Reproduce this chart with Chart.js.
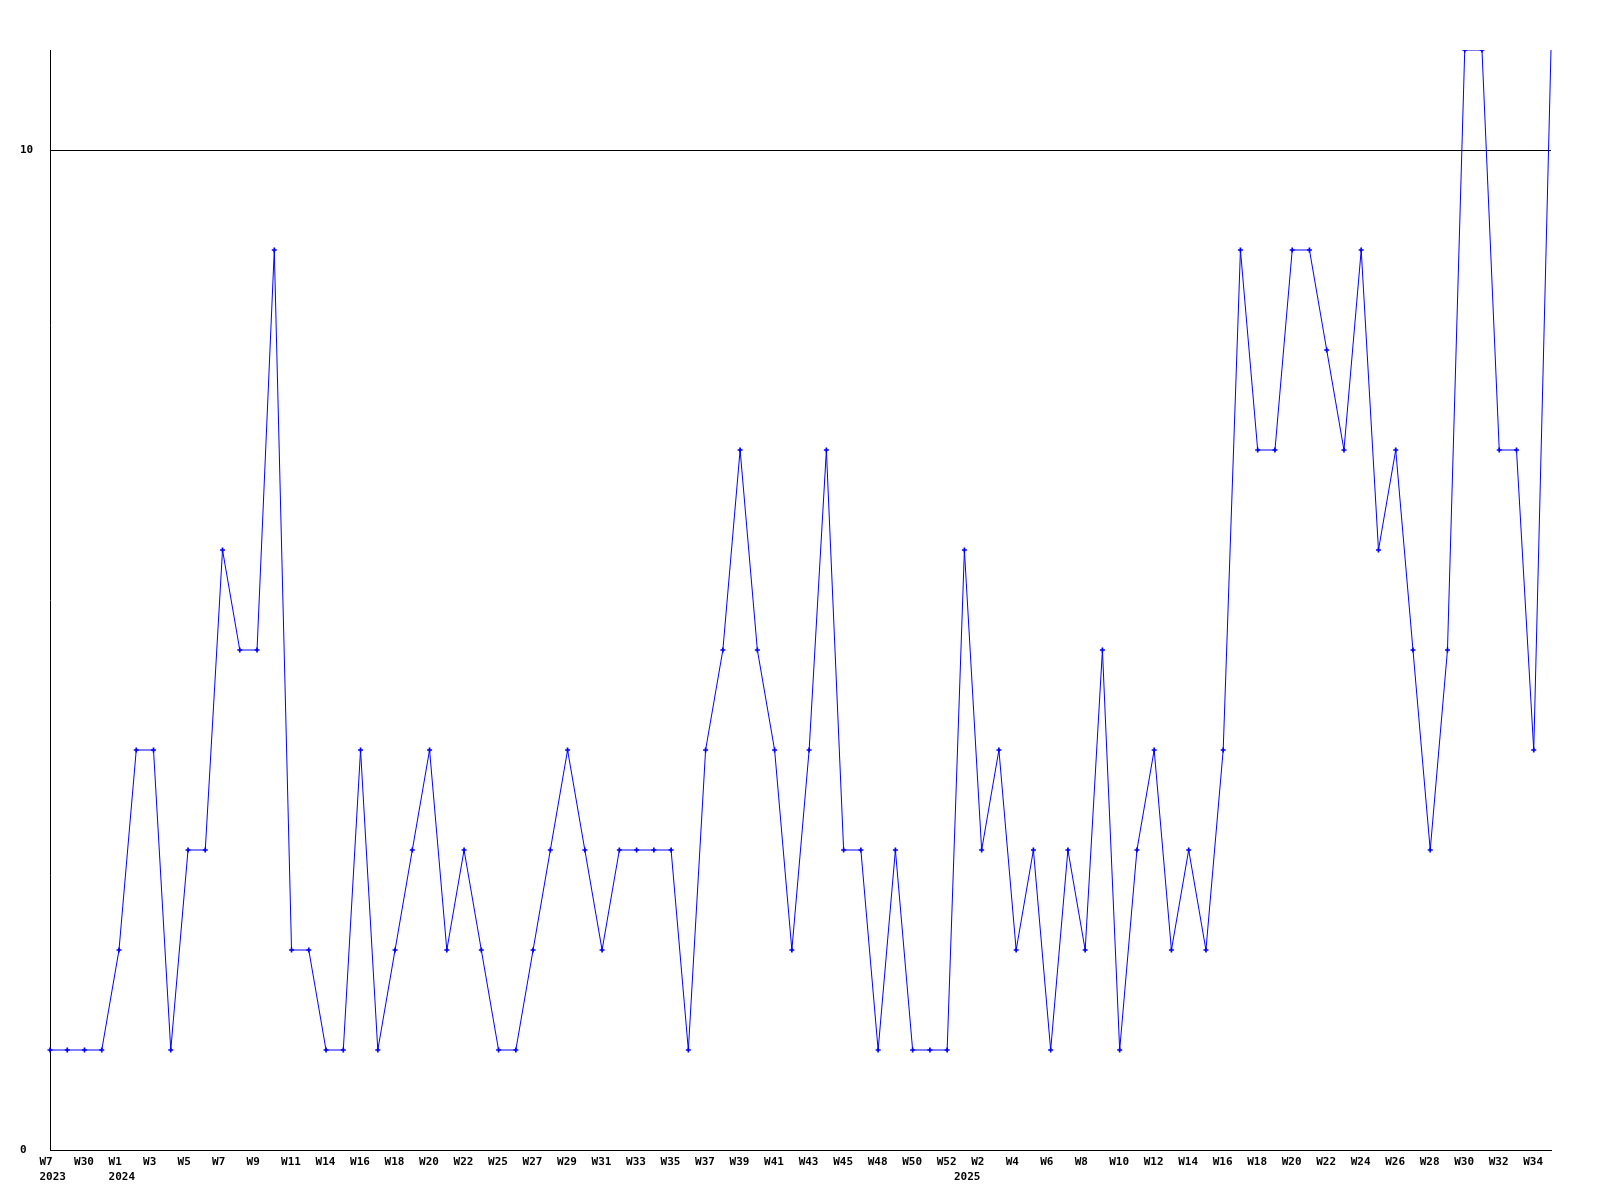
<!DOCTYPE html>
<html>
<head>
<meta charset="utf-8">
<script src="https://cdn.jsdelivr.net/npm/chart.js@4/dist/chart.umd.min.js"></script>
<style>
body { margin: 0; background: #fff; }
</style>
</head>
<body>
<canvas id="myChart" width="1600" height="1200"></canvas>
<script>
// week numbers, one per point
const weeks = [
	7, 18, 30, 44,
	1, 2, 3, 4, 5, 6, 7, 8, 9, 10, 11, 13, 14, 15, 16, 17, 18, 19, 20, 21, 22,
	24, 25, 26, 27, 28, 29, 30, 31, 32, 33, 34, 35, 36, 37, 38, 39, 40, 41, 42, 43, 44, 45,
	47, 48, 49, 50, 51, 52,
	1, 2, 3, 4, 5, 6, 7, 8, 9, 10, 11, 12, 13, 14, 15, 16, 17, 18, 19, 20,
	21, 22, 23, 24, 25, 26, 27, 28, 29, 30, 31, 32, 33, 34, 35
];
const yearOfPoint = [].concat(
	Array(4).fill(2023),
	Array(49).fill(2024),
	Array(35).fill(2025)
);
const counts = [
	1, 1, 1, 1, 2, 4, 4, 1, 3, 3,
	6, 5, 5, 9, 2, 2, 1, 1, 4, 1,
	2, 3, 4, 2, 3, 2, 1, 1, 2, 3,
	4, 3, 2, 3, 3, 3, 3, 1, 4, 5,
	7, 5, 4, 2, 4, 7, 3, 3, 1, 3,
	1, 1, 1, 6, 3, 4, 2, 3, 1, 3,
	2, 5, 1, 3, 4, 2, 3, 2, 4, 9,
	7, 7, 9, 9, 8, 7, 9, 6, 7, 5,
	3, 5, 11, 11, 7, 7, 4, 11
];
const yTicks = [0, 10];

const labels = weeks.map(w => 'W' + w);

// year goes under the first point of each year
const yearLabel = yearOfPoint.map((y, i) => (i === 0 || yearOfPoint[i - 1] !== y) ? String(y) : '');

const font = { family: 'DejaVu Sans Mono', size: 11, weight: 'bold', lineHeight: 1.35 };

const ctx = document.getElementById('myChart').getContext('2d');
const myChart = new Chart(ctx, {
	type: 'line',
	data: {
		labels: labels,
		datasets: [{
			data: counts,
			borderColor: '#0000ff',
			backgroundColor: '#0000ff',
			borderWidth: 1,
			tension: 0,
			fill: false,
			pointStyle: 'cross',
			// the last marker sits on the plot corner and is cut off in the original
			pointRadius: c => c.dataIndex === counts.length - 1 ? 0 : 2.5,
			pointBorderWidth: 1.7,
			pointHoverRadius: 2.5
		}]
	},
	options: {
		responsive: false,
		animation: false,
		layout: { padding: { left: 20, top: 50, right: 49, bottom: 0 } },
		plugins: {
			legend: { display: false },
			tooltip: { enabled: false }
		},
		scales: {
			x: {
				grid: { display: false, drawTicks: false },
				border: { display: true, color: '#000', width: 1 },
				ticks: {
					autoSkip: false,
					maxRotation: 0,
					minRotation: 0,
					align: 'start',
					labelOffset: -10.5,
					padding: 5,
					color: '#000',
					font: font,
					callback: function (value, index) {
						const w = index % 2 === 0 ? this.getLabelForValue(value) : '';
						return yearLabel[index] ? [w, yearLabel[index]] : w;
					}
				},
				afterFit: axis => { axis.height = 50; }
			},
			y: {
				min: 0,
				max: 11,
				grid: { color: '#000', lineWidth: 1, drawTicks: false },
				border: { display: true, color: '#000', width: 1 },
				ticks: {
					crossAlign: 'far',
					color: '#000',
					font: font
				},
				afterBuildTicks: axis => { axis.ticks = yTicks.map(v => ({ value: v })); },
				afterFit: axis => { axis.width = 30; }
			}
		}
	}
});
</script>
</body>
</html>
